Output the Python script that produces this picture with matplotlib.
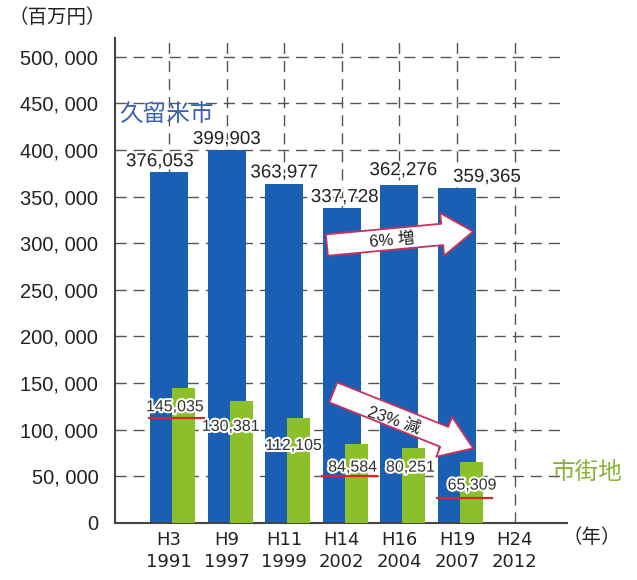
import numpy as np
import matplotlib.pyplot as plt
from matplotlib.patches import FancyArrowPatch
import matplotlib.patheffects as pe

plt.rcParams['font.family'] = ['Liberation Sans', 'Noto Sans CJK JP', 'DejaVu Sans']

# --- dados ---
anos_h = ['H3', 'H9', 'H11', 'H14', 'H16', 'H19', 'H24']
anos = ['1991', '1997', '1999', '2002', '2004', '2007', '2012']
kurume = [376053, 399903, 363977, 337728, 362276, 359365]   # 久留米市
shigaichi = [145035, 130381, 112105, 84584, 80251, 65309]  # 市街地
linha_vermelha = [113000, 50000, 27000]
idx_vermelha = [0, 3, 5]

# deslocamentos dos rotulos (layout)
dx_azul = [-0.16, 0, 0, 0.05, 0.07, 0.52]
dy_azul = [2, 2, 2, 2, 6, 2]
dx_verde = [0.10, 0.07, 0.16, 0.19, 0.19, 0.26]
dy_verde = [-19, -25, -27, -23, -19, -23]

azul = '#1b5fb4'
verde = '#8cc02a'
vermelho = '#e0202a'
halo = [pe.withStroke(linewidth=3, foreground='white')]

fig = plt.figure(figsize=(6.37, 5.8), dpi=100)
ax = fig.add_axes([115/637, 57/580, 452/637, 485/580])

x = np.arange(len(anos_h))
xb = x[:len(kurume)]
ax.bar(xb, kurume, width=0.66, color=azul, zorder=2)
ax.bar(xb + 0.25, shigaichi, width=0.40, color=verde, zorder=3)

for i, v in enumerate(kurume):
    ax.annotate(f'{v:,}', (xb[i] + dx_azul[i], v), xytext=(0, dy_azul[i]),
                textcoords='offset pixels', ha='center', va='bottom',
                fontsize=13.5, color='#222222', zorder=5, path_effects=halo)

for i, v in enumerate(shigaichi):
    ax.annotate(f'{v:,}', (xb[i] + dx_verde[i], v), xytext=(0, dy_verde[i]),
                textcoords='offset pixels', ha='center', va='center',
                fontsize=11.5, color='#333333', zorder=6,
                path_effects=[pe.withStroke(linewidth=3, foreground='white')])

for i, v in zip(idx_vermelha, linha_vermelha):
    ax.hlines(v, x[i] - 0.37, x[i] + 0.62, color=vermelho, lw=1.6, zorder=7)

# setas
def seta(p0, p1, texto, ang, pt):
    a = FancyArrowPatch(p0, p1, arrowstyle='simple,head_length=1.6,head_width=2.2,tail_width=1.1',
                        mutation_scale=14, fc='white', ec='#c8325a', lw=1.3,
                        shrinkA=0, shrinkB=0, zorder=8)
    ax.add_patch(a)
    ax.text(pt[0], pt[1], texto, rotation=ang, ha='center', va='center',
            fontsize=12, color='#222222', zorder=9, rotation_mode='anchor')

seta((2.74, 298000), (5.28, 312500), '6% 増', 5, (3.88, 303000))
seta((2.85, 140000), (5.28, 80000), '23% 減', -19, (3.90, 110000))

ax.set_xlim(-0.94, 6.91)
ax.set_ylim(0, 520000)
ax.set_yticks(np.arange(0, 500001, 50000))
ax.set_yticklabels(['0' if v == 0 else f'{v // 1000}, {v % 1000:03d}' for v in range(0, 500001, 50000)],
                   fontsize=14.5, color='#222222')
ax.set_xticks(x)
ax.set_xticklabels([f'{h}\n{a}' for h, a in zip(anos_h, anos)],
                   fontsize=13, color='#222222', family=['Liberation Sans Narrow', 'DejaVu Sans'],
                   linespacing=1.25)
ax.tick_params(length=0)
ax.tick_params(axis='y', pad=12)
ax.tick_params(axis='x', pad=6)

ax.grid(True, color='#555555', lw=1.0, linestyle=(0, (8, 5)), zorder=0)
ax.set_axisbelow(True)
for s in ['top', 'right']:
    ax.spines[s].set_visible(False)
for s in ['left', 'bottom']:
    ax.spines[s].set_color('#444444')
    ax.spines[s].set_linewidth(1.5)

fig.text(8/637, 1 - 18/580, '（百万円）', fontsize=14, va='center', ha='left', color='#222222')
fig.text(119/637, 1 - 115/580, '久留米市', fontsize=17, va='center', ha='left', color='#3a62b0')
fig.text(552/637, 1 - 473/580, '市街地', fontsize=17, va='center', ha='left', color='#86b236')
fig.text(563/637, 1 - 538/580, '（年）', fontsize=14, va='center', ha='left', color='#222222')

plt.savefig('out.png', dpi=100)
